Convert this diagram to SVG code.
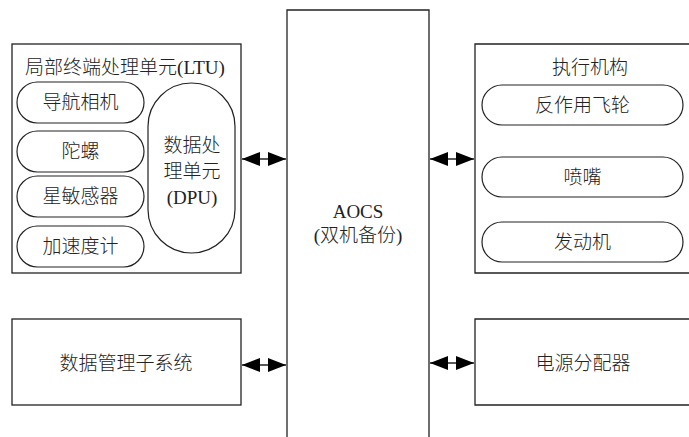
<svg xmlns="http://www.w3.org/2000/svg" width="689" height="437" viewBox="0 0 689 437">
<defs>
<style>
.box{fill:#fff;stroke:#222;stroke-width:1.3}
.pill{fill:#fff;stroke:#222;stroke-width:1.2}
.t{font-family:"Liberation Serif","Noto Sans CJK SC",serif;font-size:19px;font-weight:300;fill:#222;text-anchor:middle;dominant-baseline:central}
.c{stroke:#222;stroke-width:1.3;fill:none;marker-start:url(#ah);marker-end:url(#ah)}
</style>
<marker id="ah" markerUnits="userSpaceOnUse" markerWidth="19" markerHeight="15" refX="18" refY="7" orient="auto-start-reverse">
<path d="M0,0 L18,7 L0,14 Z" fill="#000"/>
</marker>
</defs>
<rect width="689" height="437" fill="#fff"/>
<g id="aocs">
<path class="box" d="M287,440 L287,10 L429,10 L429,440"/>
<text class="t" x="358" y="211">AOCS</text>
<text class="t" x="358" y="235">(双机备份)</text>
</g>
<g id="ltu">
<rect class="box" x="12" y="44" width="229" height="229"/>
<text class="t" x="125" y="67">局部终端处理单元(LTU)</text>
</g>
<g id="nav-camera"><rect class="pill" x="17" y="82" width="127" height="41" rx="20.5"/><text class="t" x="80.5" y="102.5">导航相机</text></g>
<g id="gyro"><rect class="pill" x="17" y="131" width="127" height="41" rx="20.5"/><text class="t" x="80.5" y="151.5">陀螺</text></g>
<g id="star-sensor"><rect class="pill" x="17" y="176" width="127" height="41" rx="20.5"/><text class="t" x="80.5" y="196.5">星敏感器</text></g>
<g id="accelerometer"><rect class="pill" x="17" y="226" width="127" height="41" rx="20.5"/><text class="t" x="80.5" y="246.5">加速度计</text></g>
<g id="dpu">
<rect class="pill" x="148" y="83" width="87" height="170" rx="43.5"/>
<text class="t" x="192" y="145">数据处</text>
<text class="t" x="192" y="171">理单元</text>
<text class="t" x="192" y="197">(DPU)</text>
</g>
<g id="actuators">
<path class="box" d="M692,44 L475,44 L475,273 L692,273"/>
<text class="t" x="590" y="67">执行机构</text>
</g>
<g id="wheel"><rect class="pill" x="482" y="85" width="201" height="40" rx="20"/><text class="t" x="582.5" y="105">反作用飞轮</text></g>
<g id="nozzle"><rect class="pill" x="482" y="157" width="201" height="40" rx="20"/><text class="t" x="582.5" y="177">喷嘴</text></g>
<g id="engine"><rect class="pill" x="482" y="222" width="201" height="40" rx="20"/><text class="t" x="582.5" y="242">发动机</text></g>
<g id="dms">
<rect class="box" x="12" y="319" width="229" height="86"/>
<text class="t" x="126" y="363">数据管理子系统</text>
</g>
<g id="pdu">
<path class="box" d="M692,319 L475,319 L475,405 L692,405"/>
<text class="t" x="583" y="363">电源分配器</text>
</g>
<g id="connectors">
<line class="c" x1="242" y1="159" x2="286" y2="159"/>
<line class="c" x1="430" y1="159" x2="474" y2="159"/>
<line class="c" x1="242" y1="365" x2="286" y2="365"/>
<line class="c" x1="430" y1="363" x2="474" y2="363"/>
</g>
</svg>
